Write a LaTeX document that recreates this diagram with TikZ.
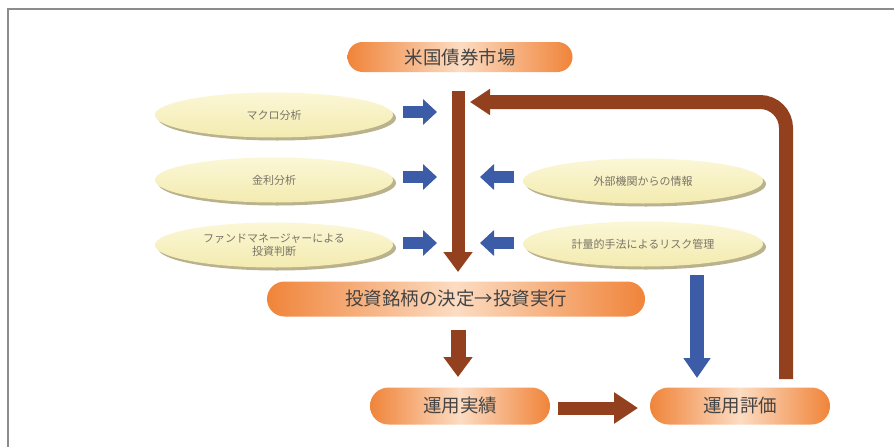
\documentclass[tikz,border=0pt]{standalone}
\usepackage{fontspec}
\setmainfont{Noto Sans CJK JP}
\usetikzlibrary{shapes.geometric,shapes.misc,arrows.meta,shadows}
\definecolor{brownA}{HTML}{93401F}
\definecolor{blueA}{HTML}{3D5CA8}
\definecolor{orgA}{HTML}{F0843A}
\definecolor{orgB}{HTML}{FCDCC2}
\definecolor{ylwA}{HTML}{FBF7D6}
\definecolor{ylwB}{HTML}{F3EBB0}
\definecolor{shdC}{HTML}{B9B28C}
\definecolor{txtD}{HTML}{444444}
\definecolor{txtL}{HTML}{7A7466}
\definecolor{frameC}{HTML}{8C8C8C}
\begin{document}
\begin{tikzpicture}[x=1pt,y=-1pt,
  pill/.style={rounded rectangle, left color=orgA, right color=orgA, middle color=orgB,
    text=txtD, font=\fontsize{18.5}{20}\selectfont, inner sep=0pt},
  oval/.style={ellipse, minimum width=238pt, minimum height=45pt, top color=ylwA, bottom color=ylwB,
    text=txtL, font=\fontsize{11}{13}\selectfont, align=center, inner sep=0pt,
    drop shadow={shadow xshift=3pt, shadow yshift=-3pt, fill=shdC, opacity=1}},
  bluearr/.style={draw=blueA, line width=12pt, -{Triangle[width=25pt,length=14pt]}},
  brownarr/.style={draw=brownA, line width=13pt, -{Triangle[width=28pt,length=20pt]}}
]
\useasboundingbox (0,0) rectangle (894,447);
\fill[white] (0,0) rectangle (894,447);
\draw[frameC, line width=2pt] (8,447) -- (8,9) -- (894,9);

% pills
\node[pill, minimum width=225pt, minimum height=30pt] (mkt) at (460,57) {米国債券市場};
\node[pill, minimum width=378pt, minimum height=35pt] (inv) at (456,299) {投資銘柄の決定→投資実行};
\node[pill, minimum width=180pt, minimum height=37pt] (perf) at (460,406) {運用実績};
\node[pill, minimum width=180pt, minimum height=37pt] (eval) at (740,406) {運用評価};

% ovals
\node[oval] (e1) at (274,115) {マクロ分析};
\node[oval] (e2) at (274,180) {金利分析};
\node[oval] (e3) at (274,245) {ファンドマネージャーによる\\投資判断};
\node[oval, minimum width=240pt] (e4) at (643,181) {外部機関からの情報};
\node[oval, minimum width=240pt] (e5) at (643,244) {計量的手法によるリスク管理};

% coordinates
\coordinate (mainS) at (458,91);
\coordinate (mainE) at (458,272);
\coordinate (b1s) at (403,112); \coordinate (b1e) at (437,112);
\coordinate (b2s) at (403,177); \coordinate (b2e) at (437,177);
\coordinate (b3s) at (403,243); \coordinate (b3e) at (437,243);
\coordinate (b4s) at (514,177); \coordinate (b4e) at (480,177);
\coordinate (b5s) at (514,243); \coordinate (b5e) at (480,243);
\coordinate (loopS) at (786,379);
\coordinate (loopC) at (786,102);
\coordinate (loopE) at (470,102);
\coordinate (dS) at (458,330); \coordinate (dE) at (458,377);
\coordinate (rS) at (558,408); \coordinate (rE) at (638,408);
\coordinate (vS) at (697,275); \coordinate (vE) at (697,378);

% main arrows
\draw[brownarr] (mainS) -- (mainE);
\draw[brownarr, line width=14pt, -{Triangle[width=25pt,length=20pt]}, rounded corners=26pt]
  (loopS) -- (loopC) -- (loopE);
\draw[brownarr, line width=15pt] (dS) -- (dE);
\draw[brownarr, line width=13pt, -{Triangle[width=30pt,length=24pt]}] (rS) -- (rE);
\draw[bluearr, line width=14pt, -{Triangle[width=26pt,length=20pt]}] (vS) -- (vE);

% blue arrows
\draw[bluearr] (b1s) -- (b1e);
\draw[bluearr] (b2s) -- (b2e);
\draw[bluearr] (b3s) -- (b3e);
\draw[bluearr] (b4s) -- (b4e);
\draw[bluearr] (b5s) -- (b5e);
\end{tikzpicture}
\end{document}
